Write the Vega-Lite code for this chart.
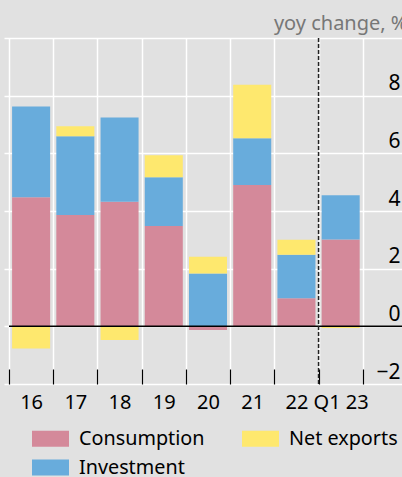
{
 "$schema": "https://vega.github.io/schema/vega-lite/v6.json",
 "width": 393,
 "height": 346,
 "autosize": {"type": "none"},
 "padding": {"left": 9, "top": 38, "right": 0, "bottom": 93},
 "background": "#e1e1e1",
 "config": {"view": {"stroke": null, "fill": "#e1e1e1"}, "font": "Noto Sans"},
 "data": {"values": [
  {"period": "16", "component": "Consumption", "ord": 1, "value": 4.48},
  {"period": "16", "component": "Investment", "ord": 2, "value": 3.14},
  {"period": "16", "component": "Net exports", "ord": 3, "value": -0.77},
  {"period": "17", "component": "Consumption", "ord": 1, "value": 3.86},
  {"period": "17", "component": "Investment", "ord": 2, "value": 2.73},
  {"period": "17", "component": "Net exports", "ord": 3, "value": 0.35},
  {"period": "18", "component": "Consumption", "ord": 1, "value": 4.32},
  {"period": "18", "component": "Investment", "ord": 2, "value": 2.92},
  {"period": "18", "component": "Net exports", "ord": 3, "value": -0.47},
  {"period": "19", "component": "Consumption", "ord": 1, "value": 3.48},
  {"period": "19", "component": "Investment", "ord": 2, "value": 1.69},
  {"period": "19", "component": "Net exports", "ord": 3, "value": 0.76},
  {"period": "20", "component": "Consumption", "ord": 1, "value": -0.13},
  {"period": "20", "component": "Investment", "ord": 2, "value": 1.83},
  {"period": "20", "component": "Net exports", "ord": 3, "value": 0.58},
  {"period": "21", "component": "Consumption", "ord": 1, "value": 4.90},
  {"period": "21", "component": "Investment", "ord": 2, "value": 1.62},
  {"period": "21", "component": "Net exports", "ord": 3, "value": 1.86},
  {"period": "22", "component": "Consumption", "ord": 1, "value": 0.97},
  {"period": "22", "component": "Investment", "ord": 2, "value": 1.51},
  {"period": "22", "component": "Net exports", "ord": 3, "value": 0.52},
  {"period": "Q1 23", "component": "Consumption", "ord": 1, "value": 3.01},
  {"period": "Q1 23", "component": "Investment", "ord": 2, "value": 1.54},
  {"period": "Q1 23", "component": "Net exports", "ord": 3, "value": -0.06}
 ]},
 "layer": [
  {
   "mark": {"type": "bar", "width": {"band": 0.86}},
   "encoding": {
    "x": {
     "field": "period", "type": "nominal",
     "scale": {"domain": ["16","17","18","19","20","21","22","Q1 23","pad"], "range": [0, 398], "paddingInner": 0, "paddingOuter": 0},
     "axis": {
      "orient": "bottom", "tickBand": "extent", "grid": true, "gridColor": "#ffffff", "gridWidth": 1.5,
      "domain": false, "ticks": true, "tickColor": "#000000", "tickSize": -15, "tickWidth": 1.2,
      "labelAngle": 0, "labelFontSize": 20, "labelColor": "#000000", "labelPadding": 23, "labelBaseline": "top",
      "labelExpr": "datum.value == 'pad' ? '' : datum.label", "title": null
     }
    },
    "y": {
     "field": "value", "type": "quantitative", "stack": "zero",
     "scale": {"domain": [-2, 10], "nice": false},
     "axis": {
      "orient": "right", "values": [-2,0,2,4,6,8,10],
      "labelExpr": "datum.value == 10 ? '' : datum.label",
      "ticks": false, "tickSize": 0, "domain": false, "grid": true, "gridColor": "#ffffff", "gridWidth": 1.5,
      "labelAlign": "right", "labelPadding": -2, "labelFontSize": 21, "labelColor": "#000000",
      "labelBaseline": "bottom", "labelOffset": -2,
      "title": "yoy change, %", "titleAngle": 0, "titleAlign": "right", "titleX": 5, "titleY": -5,
      "titleBaseline": "bottom", "titleFontSize": 20, "titleColor": "#777777", "titleFontWeight": "normal"
     }
    },
    "color": {
     "field": "component", "type": "nominal",
     "scale": {"domain": ["Consumption", "Investment", "Net exports"], "range": ["#d4899a", "#68acdc", "#fee86e"]},
     "legend": {
      "orient": "none", "legendX": 23, "legendY": 382, "columns": 2, "title": null,
      "symbolType": "M-1,-0.432H1V0.432H-1Z", "symbolSize": 1369, "symbolStrokeWidth": 0, "symbolOpacity": 1,
      "labelFontSize": 19.8, "labelColor": "#000000", "labelOffset": 10, "rowPadding": -10, "columnPadding": 37, "padding": 0
     }
    },
    "order": {"field": "ord", "type": "quantitative"}
   }
  },
  {
   "data": {"values": [{}]},
   "mark": {"type": "rule", "color": "#000000", "strokeWidth": 1.5},
   "encoding": {"y": {"datum": 0}}
  },
  {
   "data": {"values": [{}]},
   "mark": {"type": "rule", "color": "#222222", "strokeDash": [4, 2], "strokeWidth": 1.5},
   "encoding": {"x": {"datum": "Q1 23", "bandPosition": 0}}
  }
 ]
}
